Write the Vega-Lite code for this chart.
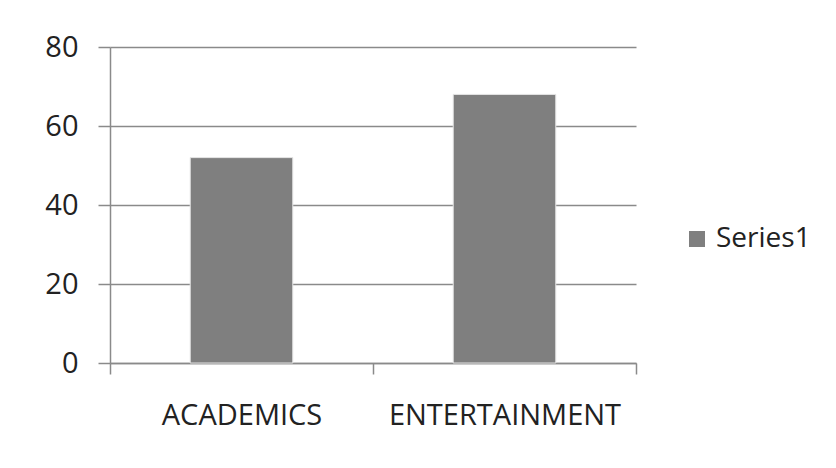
{
  "$schema": "https://vega.github.io/schema/vega-lite/v6.json",
  "autosize": {"type": "none"},
  "width": 526,
  "height": 316,
  "padding": {"left": 110, "top": 47, "right": 200, "bottom": 105},
  "background": "white",
  "config": {
    "view": {"stroke": null},
    "font": "Open Sans"
  },
  "data": {
    "values": [
      {"category": "ACADEMICS", "value": 52, "series": "Series1"},
      {"category": "ENTERTAINMENT", "value": 68, "series": "Series1"}
    ]
  },
  "mark": {"type": "bar", "width": {"band": 0.39}, "stroke": "#e6e6e6", "strokeWidth": 1},
  "encoding": {
    "x": {
      "field": "category",
      "type": "nominal",
      "sort": null,
      "scale": {"paddingInner": 0, "paddingOuter": 0},
      "axis": {
        "title": null,
        "labelAngle": 0,
        "labelLimit": 0,
        "labelFont": "Open Sans",
        "labelFontSize": 29,
        "labelColor": "#222222",
        "labelBaseline": "alphabetic",
        "labelPadding": 50,
        "tickBand": "extent",
        "tickSize": 11,
        "tickColor": "#8a8a8a",
        "tickWidth": 1.5,
        "domainColor": "#8a8a8a",
        "domainWidth": 1.5,
        "grid": false
      }
    },
    "y": {
      "field": "value",
      "type": "quantitative",
      "scale": {"domain": [0, 80], "nice": false},
      "axis": {
        "title": null,
        "values": [0, 20, 40, 60, 80],
        "labelFont": "Open Sans",
        "labelFontSize": 29,
        "labelColor": "#222222",
        "labelPadding": 20,
        "tickSize": 12,
        "tickColor": "#8a8a8a",
        "tickWidth": 1.5,
        "domainColor": "#8a8a8a",
        "domainWidth": 1.5,
        "grid": true,
        "gridColor": "#8a8a8a",
        "gridWidth": 1.5
      }
    },
    "color": {
      "field": "series",
      "type": "nominal",
      "scale": {"range": ["#7f7f7f"]},
      "legend": {
        "title": null,
        "orient": "none",
        "legendX": 573,
        "legendY": 178,
        "padding": 0,
        "symbolType": "square",
        "symbolSize": 256,
        "symbolStrokeWidth": 0,
        "symbolFillColor": "#7f7f7f",
        "labelFont": "Open Sans",
        "labelFontSize": 28,
        "labelColor": "#222222",
        "labelOffset": 5,
        "labelLimit": 0
      }
    }
  }
}
